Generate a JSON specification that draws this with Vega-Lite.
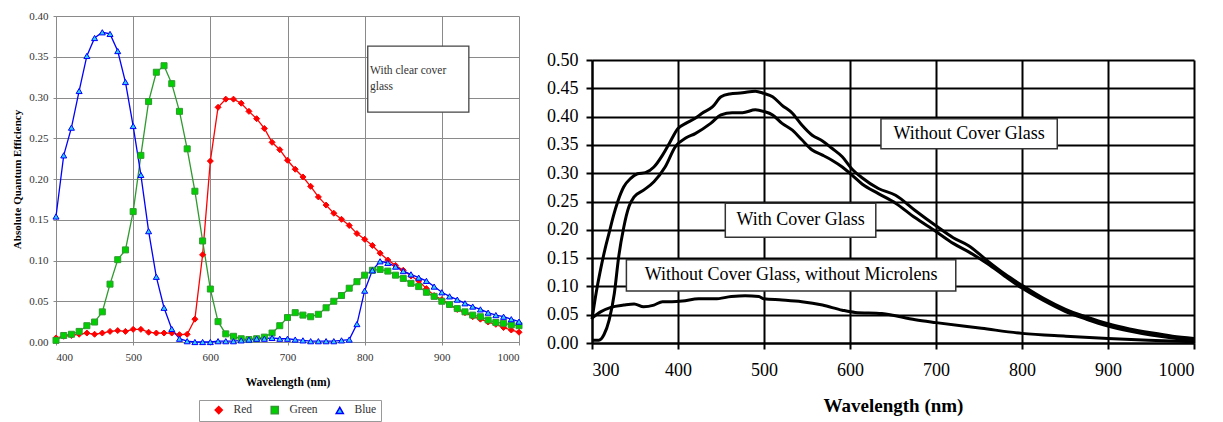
{
  "$schema": "https://vega.github.io/schema/vega-lite/v6.json",
  "padding": {"left": 11, "top": 10, "right": 0, "bottom": 0},
  "spacing": 22,
  "background": "white",
  "config": {
    "view": {"stroke": null},
    "font": "Liberation Serif",
    "axis": {"labelFont": "Liberation Serif", "titleFont": "Liberation Serif", "labelOverlap": false},
    "legend": {"labelFont": "Liberation Serif"}
  },
  "datasets": {
    "rgb": [
      {"wl":400,"series":"Red","qe":0.005},{"wl":410,"series":"Red","qe":0.007},{"wl":420,"series":"Red","qe":0.008},{"wl":430,"series":"Red","qe":0.0095},{"wl":440,"series":"Red","qe":0.011},{"wl":450,"series":"Red","qe":0.0095},{"wl":460,"series":"Red","qe":0.011},{"wl":470,"series":"Red","qe":0.013},{"wl":480,"series":"Red","qe":0.014},{"wl":490,"series":"Red","qe":0.013},{"wl":500,"series":"Red","qe":0.0155},{"wl":510,"series":"Red","qe":0.0155},{"wl":520,"series":"Red","qe":0.012},{"wl":530,"series":"Red","qe":0.011},{"wl":540,"series":"Red","qe":0.011},{"wl":550,"series":"Red","qe":0.011},{"wl":560,"series":"Red","qe":0.009},{"wl":570,"series":"Red","qe":0.0095},{"wl":580,"series":"Red","qe":0.028},{"wl":590,"series":"Red","qe":0.107},{"wl":600,"series":"Red","qe":0.222},{"wl":610,"series":"Red","qe":0.288},{"wl":620,"series":"Red","qe":0.298},{"wl":630,"series":"Red","qe":0.298},{"wl":640,"series":"Red","qe":0.293},{"wl":650,"series":"Red","qe":0.283},{"wl":660,"series":"Red","qe":0.274},{"wl":670,"series":"Red","qe":0.262},{"wl":680,"series":"Red","qe":0.245},{"wl":690,"series":"Red","qe":0.236},{"wl":700,"series":"Red","qe":0.223},{"wl":710,"series":"Red","qe":0.212},{"wl":720,"series":"Red","qe":0.2025},{"wl":730,"series":"Red","qe":0.191},{"wl":740,"series":"Red","qe":0.178},{"wl":750,"series":"Red","qe":0.168},{"wl":760,"series":"Red","qe":0.158},{"wl":770,"series":"Red","qe":0.1505},{"wl":780,"series":"Red","qe":0.143},{"wl":790,"series":"Red","qe":0.133},{"wl":800,"series":"Red","qe":0.126},{"wl":810,"series":"Red","qe":0.1185},{"wl":820,"series":"Red","qe":0.109},{"wl":830,"series":"Red","qe":0.1006},{"wl":840,"series":"Red","qe":0.094},{"wl":850,"series":"Red","qe":0.088},{"wl":860,"series":"Red","qe":0.081},{"wl":870,"series":"Red","qe":0.075},{"wl":880,"series":"Red","qe":0.0655},{"wl":890,"series":"Red","qe":0.057},{"wl":900,"series":"Red","qe":0.052},{"wl":910,"series":"Red","qe":0.046},{"wl":920,"series":"Red","qe":0.040},{"wl":930,"series":"Red","qe":0.036},{"wl":940,"series":"Red","qe":0.031},{"wl":950,"series":"Red","qe":0.028},{"wl":960,"series":"Red","qe":0.0245},{"wl":970,"series":"Red","qe":0.0217},{"wl":980,"series":"Red","qe":0.0177},{"wl":990,"series":"Red","qe":0.0147},{"wl":1000,"series":"Red","qe":0.012},
      {"wl":400,"series":"Green","qe":0.002},{"wl":410,"series":"Green","qe":0.008},{"wl":420,"series":"Green","qe":0.0095},{"wl":430,"series":"Green","qe":0.013},{"wl":440,"series":"Green","qe":0.020},{"wl":450,"series":"Green","qe":0.0245},{"wl":460,"series":"Green","qe":0.037},{"wl":470,"series":"Green","qe":0.071},{"wl":480,"series":"Green","qe":0.101},{"wl":490,"series":"Green","qe":0.113},{"wl":500,"series":"Green","qe":0.160},{"wl":510,"series":"Green","qe":0.229},{"wl":520,"series":"Green","qe":0.295},{"wl":530,"series":"Green","qe":0.331},{"wl":540,"series":"Green","qe":0.339},{"wl":550,"series":"Green","qe":0.317},{"wl":560,"series":"Green","qe":0.283},{"wl":570,"series":"Green","qe":0.237},{"wl":580,"series":"Green","qe":0.185},{"wl":590,"series":"Green","qe":0.124},{"wl":600,"series":"Green","qe":0.065},{"wl":610,"series":"Green","qe":0.025},{"wl":620,"series":"Green","qe":0.010},{"wl":630,"series":"Green","qe":0.007},{"wl":640,"series":"Green","qe":0.004},{"wl":650,"series":"Green","qe":0.003},{"wl":660,"series":"Green","qe":0.004},{"wl":670,"series":"Green","qe":0.006},{"wl":680,"series":"Green","qe":0.011},{"wl":690,"series":"Green","qe":0.020},{"wl":700,"series":"Green","qe":0.030},{"wl":710,"series":"Green","qe":0.036},{"wl":720,"series":"Green","qe":0.033},{"wl":730,"series":"Green","qe":0.031},{"wl":740,"series":"Green","qe":0.034},{"wl":750,"series":"Green","qe":0.042},{"wl":760,"series":"Green","qe":0.050},{"wl":770,"series":"Green","qe":0.057},{"wl":780,"series":"Green","qe":0.066},{"wl":790,"series":"Green","qe":0.074},{"wl":800,"series":"Green","qe":0.082},{"wl":810,"series":"Green","qe":0.088},{"wl":820,"series":"Green","qe":0.089},{"wl":830,"series":"Green","qe":0.087},{"wl":840,"series":"Green","qe":0.082},{"wl":850,"series":"Green","qe":0.078},{"wl":860,"series":"Green","qe":0.072},{"wl":870,"series":"Green","qe":0.068},{"wl":880,"series":"Green","qe":0.061},{"wl":890,"series":"Green","qe":0.056},{"wl":900,"series":"Green","qe":0.050},{"wl":910,"series":"Green","qe":0.046},{"wl":920,"series":"Green","qe":0.041},{"wl":930,"series":"Green","qe":0.037},{"wl":940,"series":"Green","qe":0.033},{"wl":950,"series":"Green","qe":0.031},{"wl":960,"series":"Green","qe":0.027},{"wl":970,"series":"Green","qe":0.024},{"wl":980,"series":"Green","qe":0.023},{"wl":990,"series":"Green","qe":0.021},{"wl":1000,"series":"Green","qe":0.020},
      {"wl":400,"series":"Blue","qe":0.154},{"wl":410,"series":"Blue","qe":0.229},{"wl":420,"series":"Blue","qe":0.263},{"wl":430,"series":"Blue","qe":0.308},{"wl":440,"series":"Blue","qe":0.351},{"wl":450,"series":"Blue","qe":0.373},{"wl":460,"series":"Blue","qe":0.380},{"wl":470,"series":"Blue","qe":0.378},{"wl":480,"series":"Blue","qe":0.357},{"wl":490,"series":"Blue","qe":0.319},{"wl":500,"series":"Blue","qe":0.265},{"wl":510,"series":"Blue","qe":0.205},{"wl":520,"series":"Blue","qe":0.136},{"wl":530,"series":"Blue","qe":0.080},{"wl":540,"series":"Blue","qe":0.042},{"wl":550,"series":"Blue","qe":0.016},{"wl":560,"series":"Blue","qe":0.004},{"wl":570,"series":"Blue","qe":0.001},{"wl":580,"series":"Blue","qe":0.0},{"wl":590,"series":"Blue","qe":0.0},{"wl":600,"series":"Blue","qe":0.0},{"wl":610,"series":"Blue","qe":0.001},{"wl":620,"series":"Blue","qe":0.001},{"wl":630,"series":"Blue","qe":0.001},{"wl":640,"series":"Blue","qe":0.002},{"wl":650,"series":"Blue","qe":0.003},{"wl":660,"series":"Blue","qe":0.004},{"wl":670,"series":"Blue","qe":0.004},{"wl":680,"series":"Blue","qe":0.005},{"wl":690,"series":"Blue","qe":0.004},{"wl":700,"series":"Blue","qe":0.004},{"wl":710,"series":"Blue","qe":0.003},{"wl":720,"series":"Blue","qe":0.002},{"wl":730,"series":"Blue","qe":0.001},{"wl":740,"series":"Blue","qe":0.001},{"wl":750,"series":"Blue","qe":0.001},{"wl":760,"series":"Blue","qe":0.001},{"wl":770,"series":"Blue","qe":0.002},{"wl":780,"series":"Blue","qe":0.003},{"wl":790,"series":"Blue","qe":0.022},{"wl":800,"series":"Blue","qe":0.063},{"wl":810,"series":"Blue","qe":0.088},{"wl":820,"series":"Blue","qe":0.099},{"wl":830,"series":"Blue","qe":0.097},{"wl":840,"series":"Blue","qe":0.0925},{"wl":850,"series":"Blue","qe":0.087},{"wl":860,"series":"Blue","qe":0.083},{"wl":870,"series":"Blue","qe":0.079},{"wl":880,"series":"Blue","qe":0.075},{"wl":890,"series":"Blue","qe":0.068},{"wl":900,"series":"Blue","qe":0.061},{"wl":910,"series":"Blue","qe":0.056},{"wl":920,"series":"Blue","qe":0.052},{"wl":930,"series":"Blue","qe":0.0475},{"wl":940,"series":"Blue","qe":0.0435},{"wl":950,"series":"Blue","qe":0.040},{"wl":960,"series":"Blue","qe":0.036},{"wl":970,"series":"Blue","qe":0.033},{"wl":980,"series":"Blue","qe":0.031},{"wl":990,"series":"Blue","qe":0.028},{"wl":1000,"series":"Blue","qe":0.025}
    ],
    "cover": [
      {"wl":300,"curve":"A","qe":0.042},{"wl":305,"curve":"A","qe":0.09},{"wl":310,"curve":"A","qe":0.13},{"wl":315,"curve":"A","qe":0.165},{"wl":320,"curve":"A","qe":0.195},{"wl":325,"curve":"A","qe":0.225},{"wl":330,"curve":"A","qe":0.25},{"wl":337,"curve":"A","qe":0.276},{"wl":345,"curve":"A","qe":0.291},{"wl":353,"curve":"A","qe":0.299},{"wl":362,"curve":"A","qe":0.301},{"wl":372,"curve":"A","qe":0.311},{"wl":382,"curve":"A","qe":0.332},{"wl":390,"curve":"A","qe":0.353},{"wl":400,"curve":"A","qe":0.379},{"wl":409,"curve":"A","qe":0.388},{"wl":420,"curve":"A","qe":0.397},{"wl":428,"curve":"A","qe":0.406},{"wl":440,"curve":"A","qe":0.417},{"wl":450,"curve":"A","qe":0.435},{"wl":460,"curve":"A","qe":0.44},{"wl":475,"curve":"A","qe":0.442},{"wl":490,"curve":"A","qe":0.445},{"wl":500,"curve":"A","qe":0.441},{"wl":510,"curve":"A","qe":0.435},{"wl":521,"curve":"A","qe":0.42},{"wl":533,"curve":"A","qe":0.406},{"wl":544,"curve":"A","qe":0.385},{"wl":556,"curve":"A","qe":0.367},{"wl":568,"curve":"A","qe":0.357},{"wl":579,"curve":"A","qe":0.344},{"wl":591,"curve":"A","qe":0.329},{"wl":602,"curve":"A","qe":0.308},{"wl":614,"curve":"A","qe":0.292},{"wl":633,"curve":"A","qe":0.273},{"wl":653,"curve":"A","qe":0.261},{"wl":675,"curve":"A","qe":0.235},{"wl":700,"curve":"A","qe":0.207},{"wl":720,"curve":"A","qe":0.186},{"wl":738,"curve":"A","qe":0.172},{"wl":760,"curve":"A","qe":0.145},{"wl":780,"curve":"A","qe":0.122},{"wl":800,"curve":"A","qe":0.102},{"wl":825,"curve":"A","qe":0.079},{"wl":850,"curve":"A","qe":0.06},{"wl":875,"curve":"A","qe":0.046},{"wl":900,"curve":"A","qe":0.034},{"wl":925,"curve":"A","qe":0.025},{"wl":950,"curve":"A","qe":0.018},{"wl":975,"curve":"A","qe":0.012},{"wl":1000,"curve":"A","qe":0.008},
      {"wl":300,"curve":"B","qe":0.005},{"wl":308,"curve":"B","qe":0.005},{"wl":314,"curve":"B","qe":0.015},{"wl":320,"curve":"B","qe":0.041},{"wl":326,"curve":"B","qe":0.088},{"wl":331,"curve":"B","qe":0.152},{"wl":337,"curve":"B","qe":0.205},{"wl":343,"curve":"B","qe":0.241},{"wl":349,"curve":"B","qe":0.258},{"wl":360,"curve":"B","qe":0.27},{"wl":372,"curve":"B","qe":0.285},{"wl":385,"curve":"B","qe":0.311},{"wl":397,"curve":"B","qe":0.347},{"wl":409,"curve":"B","qe":0.362},{"wl":420,"curve":"B","qe":0.37},{"wl":438,"curve":"B","qe":0.388},{"wl":450,"curve":"B","qe":0.403},{"wl":463,"curve":"B","qe":0.407},{"wl":475,"curve":"B","qe":0.407},{"wl":490,"curve":"B","qe":0.412},{"wl":500,"curve":"B","qe":0.409},{"wl":510,"curve":"B","qe":0.403},{"wl":521,"curve":"B","qe":0.388},{"wl":533,"curve":"B","qe":0.376},{"wl":544,"curve":"B","qe":0.359},{"wl":556,"curve":"B","qe":0.341},{"wl":568,"curve":"B","qe":0.332},{"wl":579,"curve":"B","qe":0.323},{"wl":591,"curve":"B","qe":0.311},{"wl":602,"curve":"B","qe":0.297},{"wl":614,"curve":"B","qe":0.281},{"wl":633,"curve":"B","qe":0.264},{"wl":653,"curve":"B","qe":0.247},{"wl":675,"curve":"B","qe":0.222},{"wl":700,"curve":"B","qe":0.197},{"wl":720,"curve":"B","qe":0.176},{"wl":738,"curve":"B","qe":0.161},{"wl":760,"curve":"B","qe":0.14},{"wl":780,"curve":"B","qe":0.118},{"wl":800,"curve":"B","qe":0.097},{"wl":825,"curve":"B","qe":0.075},{"wl":850,"curve":"B","qe":0.056},{"wl":875,"curve":"B","qe":0.042},{"wl":900,"curve":"B","qe":0.03},{"wl":925,"curve":"B","qe":0.021},{"wl":950,"curve":"B","qe":0.014},{"wl":975,"curve":"B","qe":0.009},{"wl":1000,"curve":"B","qe":0.006},
      {"wl":300,"curve":"C","qe":0.044},{"wl":310,"curve":"C","qe":0.055},{"wl":322,"curve":"C","qe":0.063},{"wl":337,"curve":"C","qe":0.067},{"wl":349,"curve":"C","qe":0.069},{"wl":360,"curve":"C","qe":0.064},{"wl":372,"curve":"C","qe":0.067},{"wl":382,"curve":"C","qe":0.073},{"wl":393,"curve":"C","qe":0.073},{"wl":405,"curve":"C","qe":0.074},{"wl":424,"curve":"C","qe":0.078},{"wl":443,"curve":"C","qe":0.078},{"wl":462,"curve":"C","qe":0.082},{"wl":478,"curve":"C","qe":0.0835},{"wl":494,"curve":"C","qe":0.082},{"wl":500,"curve":"C","qe":0.078},{"wl":521,"curve":"C","qe":0.076},{"wl":544,"curve":"C","qe":0.073},{"wl":568,"curve":"C","qe":0.067},{"wl":591,"curve":"C","qe":0.058},{"wl":606,"curve":"C","qe":0.054},{"wl":637,"curve":"C","qe":0.052},{"wl":676,"curve":"C","qe":0.041},{"wl":700,"curve":"C","qe":0.036},{"wl":753,"curve":"C","qe":0.026},{"wl":800,"curve":"C","qe":0.017},{"wl":851,"curve":"C","qe":0.012},{"wl":900,"curve":"C","qe":0.008},{"wl":947,"curve":"C","qe":0.005},{"wl":1000,"curve":"C","qe":0.002}
    ],
    "labels": [
      {"label": "Without Cover Glass", "x1": 636, "x2": 841, "y1": 0.396, "y2": 0.343, "cx": 738.5, "cy": 0.3695},
      {"label": "With Cover Glass", "x1": 455, "x2": 630, "y1": 0.247, "y2": 0.187, "cx": 542.5, "cy": 0.217},
      {"label": "Without Cover Glass, without Microlens", "x1": 340, "x2": 723, "y1": 0.147, "y2": 0.092, "cx": 531.5, "cy": 0.1195}
    ]
  },
  "hconcat": [
    {
      "width": 463,
      "height": 326,
      "layer": [
        {
          "data": {"name": "rgb"},
          "mark": {"type": "line", "strokeWidth": 1.3},
          "encoding": {
            "x": {"field": "wl", "type": "quantitative", "scale": {"domain": [400, 1000], "nice": false},
              "axis": {"values": [400,500,600,700,800,900,1000], "format": "d", "title": "Wavelength (nm)", "titleFontSize": 11.5, "titleFontWeight": "bold", "titlePadding": 14,
                "labelFontSize": 11, "labelColor": "#333", "labelPadding": 6, "grid": true, "gridColor": "#8a8a8a", "gridWidth": 1, "domainColor": "#8a8a8a", "tickColor": "#8a8a8a", "tickSize": 3}},
            "y": {"field": "qe", "type": "quantitative", "scale": {"domain": [0, 0.4], "nice": false},
              "axis": {"values": [0,0.05,0.1,0.15,0.2,0.25,0.3,0.35,0.4], "format": ".2f", "title": "Absolute Quantum Efficiency", "titleFontSize": 11, "titleFontWeight": "bold", "titlePadding": 6,
                "labelFontSize": 11, "labelColor": "#333", "labelPadding": 5, "grid": true, "gridColor": "#8a8a8a", "gridWidth": 1, "domainColor": "#8a8a8a", "tickColor": "#8a8a8a", "tickSize": 3}},
            "stroke": {"field": "series", "type": "nominal", "title": null,
              "scale": {"domain": ["Red", "Green", "Blue"], "range": ["#ff0000", "#2f9a2f", "#0000ff"]},
              "legend": {"orient": "none", "legendX": 143, "legendY": 384, "direction": "horizontal", "strokeColor": "#999", "padding": 4, "labelFontSize": 11.5, "columnPadding": 6, "symbolSize": 50, "symbolOffset": 10, "labelOffset": 9, "symbolStrokeWidth": 1.5, "labelColor": "#333"}},
            "detail": {"field": "series"}
          }
        },
        {
          "data": {"name": "rgb"},
          "mark": {"type": "point", "filled": true, "strokeWidth": 1, "opacity": 1},
          "encoding": {
            "x": {"field": "wl", "type": "quantitative"},
            "y": {"field": "qe", "type": "quantitative"},
            "stroke": {"field": "series", "type": "nominal", "title": null},
            "fill": {"field": "series", "type": "nominal", "title": null,
              "scale": {"domain": ["Red", "Green", "Blue"], "range": ["#ff0000", "#00d000", "#33ccff"]}},
            "shape": {"field": "series", "type": "nominal", "title": null,
              "scale": {"domain": ["Red", "Green", "Blue"], "range": ["diamond", "square", "triangle-up"]}},
            "size": {"value": 36}
          }
        },
        {
          "data": {"values": [{"label": "With clear cover\nglass"}]},
          "mark": {"type": "rect", "fill": "white", "stroke": "#444", "strokeWidth": 1.3},
          "encoding": {
            "x": {"datum": 804}, "x2": {"datum": 935},
            "y": {"datum": 0.363}, "y2": {"datum": 0.282}
          }
        },
        {
          "data": {"values": [{"label": "With clear cover\nglass"}]},
          "mark": {"type": "text", "align": "left", "baseline": "middle", "lineBreak": "\n", "lineHeight": 16, "fontSize": 11.5, "color": "#333", "font": "Liberation Serif"},
          "encoding": {
            "x": {"datum": 807}, "y": {"datum": 0.333},
            "text": {"field": "label"}
          }
        }
      ]
    },
    {
      "spacing": 34,
      "vconcat": [
        {
          "width": 602,
          "height": 1,
          "data": {"values": []},
          "mark": {"type": "point", "opacity": 0},
          "encoding": {}
        },
        {
          "width": 602,
          "height": 283,
          "encoding": {
            "x": {"type": "quantitative", "scale": {"domain": [300, 1000], "nice": false},
              "axis": {"values": [300,400,500,600,700,800,900,1000], "format": "d", "title": "Wavelength (nm)", "titleFontSize": 19, "titleFontWeight": "bold", "titlePadding": 17, "titleColor": "black",
                "labelFontSize": 18, "labelColor": "black", "labelPadding": 12, "grid": true, "gridColor": "black", "gridWidth": 2, "domainColor": "black", "domainWidth": 2, "tickColor": "black", "tickWidth": 2, "tickSize": 6}},
            "y": {"type": "quantitative", "scale": {"domain": [0, 0.5], "nice": false},
              "axis": {"values": [0,0.05,0.1,0.15,0.2,0.25,0.3,0.35,0.4,0.45,0.5], "format": ".2f", "title": null,
                "labelFontSize": 18, "labelColor": "black", "labelPadding": 8, "grid": true, "gridColor": "black", "gridWidth": 2, "domainColor": "black", "domainWidth": 2, "tickColor": "black", "tickWidth": 2, "tickSize": 6}}
          },
          "layer": [
            {
              "data": {"name": "cover"},
              "mark": {"type": "line", "color": "black", "strokeWidth": 3, "interpolate": "monotone"},
              "encoding": {
                "x": {"field": "wl"},
                "y": {"field": "qe"},
                "detail": {"field": "curve"}
              }
            },
            {
              "data": {"name": "labels"},
              "mark": {"type": "rect", "fill": "white", "stroke": "#333", "strokeWidth": 1.5},
              "encoding": {
                "x": {"field": "x1"}, "x2": {"field": "x2"},
                "y": {"field": "y1"}, "y2": {"field": "y2"}
              }
            },
            {
              "data": {"name": "labels"},
              "mark": {"type": "text", "align": "center", "baseline": "middle", "fontSize": 18, "color": "black", "font": "Liberation Serif"},
              "encoding": {
                "x": {"field": "cx"},
                "y": {"field": "cy"},
                "text": {"field": "label"}
              }
            }
          ]
        }
      ]
    }
  ]
}
